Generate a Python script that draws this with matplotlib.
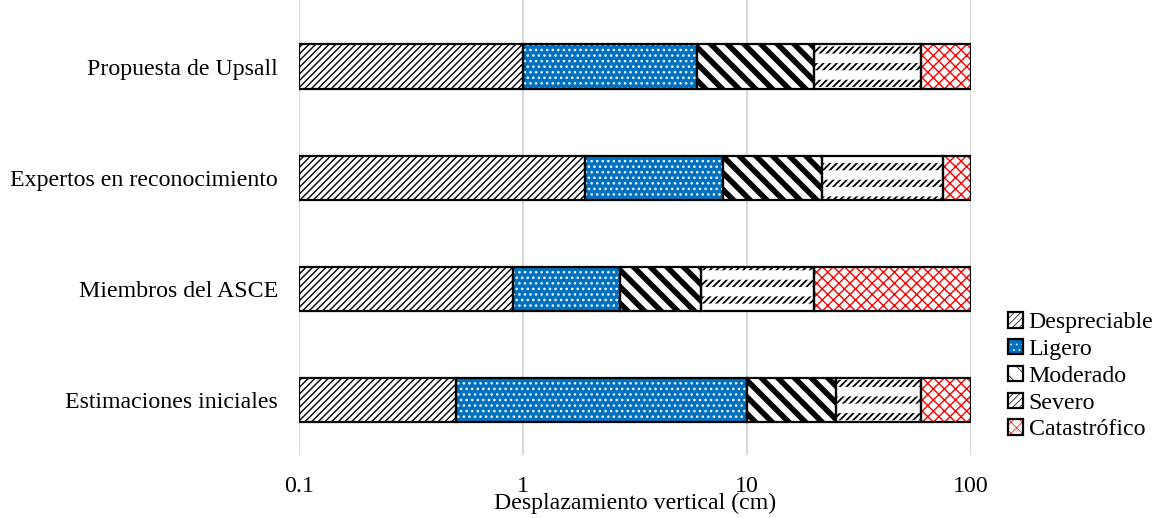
import numpy as np
import matplotlib
matplotlib.use("Agg")
import matplotlib.pyplot as plt
from matplotlib.patches import Patch

plt.rcParams['font.family'] = ['Liberation Serif', 'DejaVu Serif']

# categories, bottom to top
categorias = ["Estimaciones iniciales", "Miembros del ASCE",
              "Expertos en reconocimiento", "Propuesta de Upsall"]
series = ["Despreciable", "Ligero", "Moderado", "Severo", "Catastrófico"]

# upper limit of each level (cm), same order as categorias
despreciable = [0.5, 0.9, 1.9, 1.0]
ligero = [10, 2.7, 7.8, 6.0]
moderado = [25, 6.2, 21.5, 20]
severo = [60, 20, 75, 60]
catastrofico = [100, 100, 100, 100]
inicio = 0.1

limites = [despreciable, ligero, moderado, severo, catastrofico]

# layers per level: (fill, hatch colour, hatch, hatch width)
estilos = [
    [("white", "black", "/////", 1.0)],
    [("#0070C0", "white", "...", 1.0)],
    [("white", "black", "\\\\", 4.0)],
    [("white", "black", "/////", 1.3), ("none", "white", "-", 6.8)],
    [("white", "red", "xxx", 1.0)],
]


def ancho_trama(p, hw):
    try:
        p.set_hatch_linewidth(hw)
    except AttributeError:
        pass


fig = plt.figure(figsize=(11.56, 5.18), dpi=100)
ax = fig.add_axes([0.2587, 0.1207, 0.5813, 0.8793])

y = np.arange(len(categorias))
alto = 0.4
izq = np.full(len(categorias), inicio, dtype=float)
for lim, capas in zip(limites, estilos):
    lim = np.array(lim, dtype=float)
    for (fc, hc, h, hw) in capas:
        plt.rcParams['hatch.linewidth'] = hw
        bars = ax.barh(y, lim - izq, left=izq, height=alto, color=fc,
                       edgecolor=hc, hatch=h, linewidth=0, zorder=2)
        for b in bars:
            ancho_trama(b, hw)
    ax.barh(y, lim - izq, left=izq, height=alto, fill=False,
            edgecolor="black", linewidth=1.6, zorder=3)
    izq = lim

ax.set_xscale("log")
ax.set_xlim(0.1, 100)
ax.set_ylim(-0.5, 3.6)
ax.set_yticks(y)
ax.set_yticklabels(categorias, fontsize=17.2)
ax.set_xticks([0.1, 1, 10, 100])
ax.set_xticklabels(["0.1", "1", "10", "100"], fontsize=17.2)
ax.minorticks_off()
ax.tick_params(axis="x", length=0, pad=15)
ax.tick_params(axis="y", length=0, pad=15)
ax.grid(axis="x", color="#D9D9D9", linewidth=1.5, zorder=0)
ax.set_axisbelow(True)
for s in ax.spines.values():
    s.set_visible(False)
ax.set_xlabel("Desplazamiento vertical (cm)", fontsize=17.2, labelpad=-3)

handles = []
for capas in estilos:
    partes = []
    for (fc, hc, h, hw) in capas:
        plt.rcParams['hatch.linewidth'] = min(hw, 1.0) if hc == "black" else hw * 0.5
        p = Patch(facecolor=fc, edgecolor=hc, hatch=h, linewidth=0)
        ancho_trama(p, plt.rcParams['hatch.linewidth'])
        partes.append(p)
    partes.append(Patch(fill=False, edgecolor="black", linewidth=1.6))
    handles.append(tuple(partes))
fig.legend(handles, series, loc="upper left", bbox_to_anchor=(0.862, 0.42),
           frameon=False, fontsize=17.2, handlelength=0.6, handleheight=0.6,
           handletextpad=0.25, labelspacing=0.24, borderpad=0)

fig.savefig("out.png", dpi=100)
